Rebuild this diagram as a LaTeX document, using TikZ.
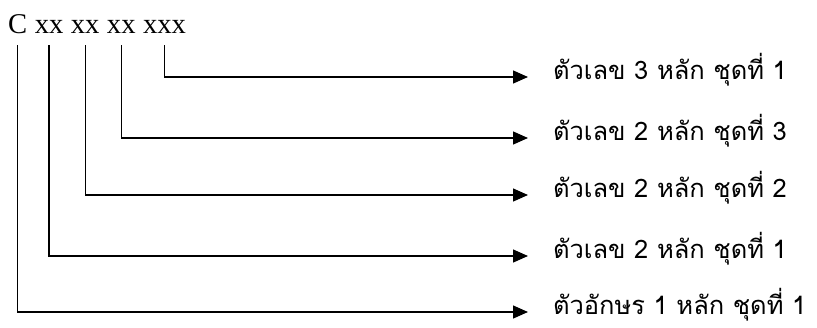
\documentclass[tikz,border=0pt]{standalone}
\usepackage{fontspec}
\setmainfont{Liberation Serif}
\newfontfamily\thaifont[Script=Thai]{Loma}
\usetikzlibrary{arrows.meta}
\usetikzlibrary{positioning}
\tikzset{
	codepart/.style = {
		inner sep=0pt,
		font=\fontsize{28.6}{30}\selectfont,
		anchor=base west
	},
	partlabel/.style = {
		inner sep=0pt,
		outer xsep=25pt,
		font=\thaifont\fontsize{25.5}{28}\selectfont,
		anchor=mid west
	},
	link/.style = {
		-{Triangle[length=15pt,width=13pt]},
		line width=1.3pt,
		shorten <=12pt
	},
}

\begin{document}
\begin{tikzpicture}[x=1pt, y=-1pt]
\useasboundingbox (0,0) rectangle (817,327);
\node [codepart] (gC) at (8,33) {C};
\node [codepart, base right=7.1pt of gC] (gA) {xx};
\node [codepart, base right=7.1pt of gA] (gB) {xx};
\node [codepart, base right=7.1pt of gB] (gD) {xx};
\node [codepart, base right=7.1pt of gD] (gE) {xxx};

\node [partlabel] (lE) at (528,77) {ตัวเลข 3 หลัก ชุดที่ 1};
\node [partlabel] (lD) at (528,138) {ตัวเลข 2 หลัก ชุดที่ 3};
\node [partlabel] (lB) at (528,195) {ตัวเลข 2 หลัก ชุดที่ 2};
\node [partlabel] (lA) at (528,256) {ตัวเลข 2 หลัก ชุดที่ 1};
\node [partlabel] (lC) at (528,312) {ตัวอักษร 1 หลัก ชุดที่ 1};

\draw [link] (gE.south) |- (lE.mid west);
\draw [link] (gD.south) |- (lD.mid west);
\draw [link] (gB.south) |- (lB.mid west);
\draw [link] (gA.south) |- (lA.mid west);
\draw [link] (gC.south) |- (lC.mid west);
\end{tikzpicture}
\end{document}
